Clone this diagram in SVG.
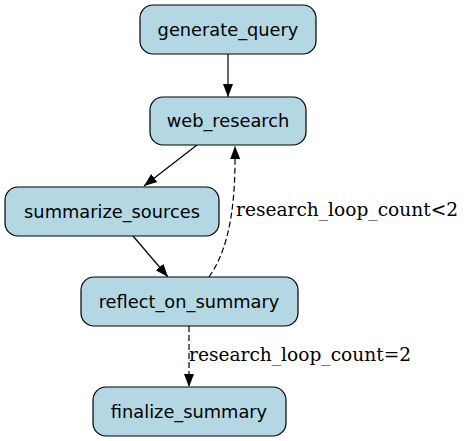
<svg xmlns="http://www.w3.org/2000/svg" width="464" height="441" viewBox="0 0 464 441">
<style>
.node rect{fill:#b3d8e4;stroke:#000;stroke-width:1.2}
.node text{font-family:"DejaVu Sans",sans-serif;font-size:17.8px;text-anchor:middle;fill:#000}
.edge{fill:none;stroke:#000;stroke-width:1.2}
.dash{stroke-dasharray:6,3}
.lbl{font-family:"DejaVu Serif",serif;font-size:18.6px;fill:#000}
</style>
<defs>
<marker id="ah" markerWidth="12" markerHeight="12" refX="13" refY="6" orient="auto" markerUnits="userSpaceOnUse">
<path d="M0,1 L13,6 L0,11 Z" fill="#000"/>
</marker>
</defs>
<rect width="464" height="441" fill="#fff"/>
<g id="connectors">
<path class="edge" d="M228,54 L228,97" marker-end="url(#ah)"/>
<path class="edge" d="M197,145 L144,186" marker-end="url(#ah)"/>
<path class="edge" d="M133,236 L168,277" marker-end="url(#ah)"/>
<path class="edge dash" d="M209,277 C228,250 236,210 235,146" marker-end="url(#ah)"/>
<path class="edge dash" d="M189,326 L189,387" marker-end="url(#ah)"/>
<text class="lbl" x="236" y="216">research_loop_count&lt;2</text>
<text class="lbl" x="189" y="361">research_loop_count=2</text>
</g>
<g id="generate_query" class="node"><rect x="140" y="5" width="176" height="49" rx="13"/><text x="228" y="36">generate_query</text></g>
<g id="web_research" class="node"><rect x="150" y="97" width="156" height="48" rx="13"/><text x="228" y="127">web_research</text></g>
<g id="summarize_sources" class="node"><rect x="5" y="187" width="214" height="49" rx="13"/><text x="112" y="218">summarize_sources</text></g>
<g id="reflect_on_summary" class="node"><rect x="81" y="277" width="217" height="49" rx="13"/><text x="189" y="308">reflect_on_summary</text></g>
<g id="finalize_summary" class="node"><rect x="93" y="387" width="193" height="49" rx="13"/><text x="189" y="418">finalize_summary</text></g>
</svg>
